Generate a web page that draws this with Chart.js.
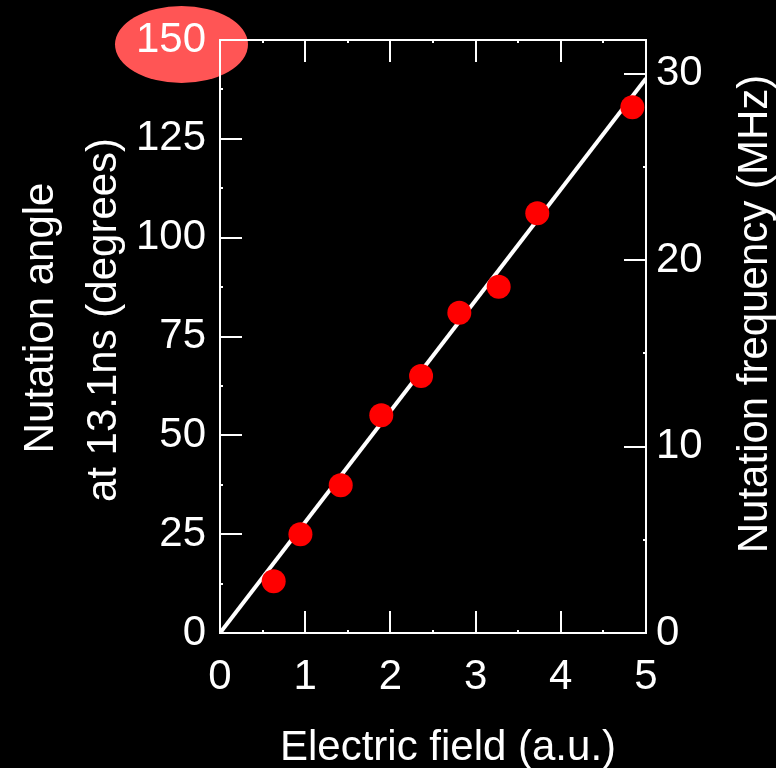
<!DOCTYPE html>
<html>
<head>
<meta charset="utf-8">
<script src="https://cdn.jsdelivr.net/npm/chart.js@4"></script>
<style>
  html, body { margin: 0; padding: 0; background: #000; }
  #wrap { width: 776px; height: 768px; }
</style>
</head>
<body>
<div id="wrap"><canvas id="myChart" width="776" height="768"></canvas></div>
<script>
// measured points
const fieldVals = [0.63, 0.944, 1.417, 1.893, 2.36, 2.809, 3.271, 3.724, 4.84];
const angleVals = [13.1, 25.0, 37.4, 55.1, 65.0, 81.0, 87.6, 106.2, 133.0];

// linear fit line
const fitX = [0, 5];
const fitY = [0, 140.3];

// axis ranges / ticks
const xTicks = [0, 1, 2, 3, 4, 5];
const angleTicks = [0, 25, 50, 75, 100, 125, 150];
const freqTicks = [0, 10, 20, 30];
const angleMax = 150;
const freqMax = angleMax / (0.0131 * 360); // 13.1 ns -> MHz

const FONT = '"Liberation Sans", Arial, Helvetica, sans-serif';

function fixWidth(w) { return s => { s.width = w; }; }
function fixHeight(h) { return s => { s.height = h; }; }

// red highlight behind the "150" label
const highlight = {
  id: 'highlight',
  beforeDraw(chart) {
    const ctx = chart.ctx;
    const y = chart.scales.y;
    ctx.save();
    ctx.fillStyle = '#000';
    ctx.fillRect(0, 0, chart.width, chart.height);
    ctx.fillStyle = '#ff5555';
    ctx.beginPath();
    ctx.ellipse(181.5, y.getPixelForValue(angleMax) + 4.5, 66.5, 38.5, 0, 0, Math.PI * 2);
    ctx.fill();
    ctx.restore();
  }
};

// inward tick marks on all four sides
const inTicks = {
  id: 'inTicks',
  beforeDatasetsDraw(chart) {
    const ctx = chart.ctx;
    const {x, y, y2} = chart.scales;
    const a = chart.chartArea;
    const big = 22, small = 3;
    ctx.save();
    ctx.strokeStyle = '#fff';
    ctx.lineWidth = 2;
    ctx.beginPath();
    for (let v = 0.5; v < 5; v += 0.5) {
      const px = Math.round(x.getPixelForValue(v));
      const len = Number.isInteger(v) ? big : small;
      ctx.moveTo(px, a.bottom); ctx.lineTo(px, a.bottom - len);
      ctx.moveTo(px, a.top); ctx.lineTo(px, a.top + len);
    }
    for (let v = 12.5; v < angleMax; v += 12.5) {
      const py = Math.round(y.getPixelForValue(v));
      const len = (v % 25 === 0) ? big : small;
      ctx.moveTo(a.left, py); ctx.lineTo(a.left + len, py);
    }
    for (let v = 5; v < freqMax; v += 5) {
      const py = Math.round(y2.getPixelForValue(v));
      const len = (v % 10 === 0) ? big : small;
      ctx.moveTo(a.right, py); ctx.lineTo(a.right - len, py);
    }
    ctx.stroke();
    ctx.restore();
  }
};

// axis titles
const titles = {
  id: 'titles',
  afterDraw(chart) {
    const ctx = chart.ctx;
    ctx.save();
    ctx.fillStyle = '#fff';
    ctx.font = '42px ' + FONT;
    ctx.textAlign = 'center';
    ctx.textBaseline = 'alphabetic';
    ctx.fillText('Electric field (a.u.)', 448, 760);
    const rot = (txt, bx, cy) => {
      ctx.save();
      ctx.translate(bx, cy);
      ctx.rotate(-Math.PI / 2);
      ctx.fillText(txt, 0, 0);
      ctx.restore();
    };
    rot('Nutation angle', 53, 318);
    rot('at 13.1ns (degrees)', 115.5, 320);
    rot('Nutation frequency (MHz)', 767, 314);
    ctx.restore();
  }
};

const tickFont = { family: FONT, size: 42 };
const noGrid = { drawOnChartArea: false, drawTicks: false };
const border = { color: '#fff', width: 2 };

const config = {
  type: 'scatter',
  data: {
    datasets: [
      {
        label: 'data',
        data: fieldVals.map((v, i) => ({ x: v, y: angleVals[i] })),
        backgroundColor: '#ff0000',
        borderColor: '#ff0000',
        pointRadius: 12,
        pointHoverRadius: 12,
        borderWidth: 0
      },
      {
        label: 'fit',
        type: 'line',
        data: fitX.map((v, i) => ({ x: v, y: fitY[i] })),
        borderColor: '#fff',
        borderWidth: 4,
        pointRadius: 0,
        fill: false
      }
    ]
  },
  options: {
    responsive: false,
    animation: false,
    layout: { padding: 0 },
    plugins: { legend: { display: false }, tooltip: { enabled: false } },
    scales: {
      x: {
        type: 'linear', position: 'bottom', min: 0, max: 5,
        afterBuildTicks: s => { s.ticks = xTicks.map(v => ({ value: v })); },
        ticks: { color: '#fff', font: tickFont, padding: 19, maxRotation: 0 },
        grid: noGrid, border: border,
        afterFit: fixHeight(135)
      },
      x2: {
        type: 'linear', axis: 'x', position: 'top', min: 0, max: 5,
        ticks: { display: false },
        grid: noGrid, border: border,
        afterFit: fixHeight(40)
      },
      y: {
        type: 'linear', position: 'left', min: 0, max: angleMax,
        afterBuildTicks: s => { s.ticks = angleTicks.map(v => ({ value: v })); },
        ticks: { color: '#fff', font: tickFont, padding: 14 },
        grid: noGrid, border: border,
        afterFit: fixWidth(220)
      },
      y2: {
        type: 'linear', axis: 'y', position: 'right', min: 0, max: freqMax,
        afterBuildTicks: s => { s.ticks = freqTicks.map(v => ({ value: v })); },
        ticks: { color: '#fff', font: tickFont, padding: 10 },
        grid: noGrid, border: border,
        afterFit: fixWidth(130)
      }
    }
  },
  plugins: [highlight, inTicks, titles]
};

const myChart = new Chart(document.getElementById('myChart'), config);
</script>
</body>
</html>
